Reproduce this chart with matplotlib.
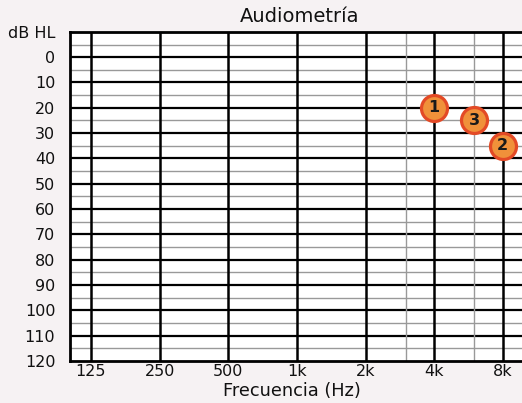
import numpy as np
import matplotlib
matplotlib.use("Agg")
import matplotlib.pyplot as plt

plt.rcParams['font.family'] = ['DejaVu Sans']

# audiogram axes
freq_ticks = [125, 250, 500, 1000, 2000, 4000, 8000]
freq_labels = ["125", "250", "500", "1k", "2k", "4k", "8k"]
half_octaves = [3000, 6000]
db_ticks = list(range(0, 130, 10))

# measured points
point_freq = [4000, 8000, 6000]
point_db = [20, 35, 25]
point_labels = ["1", "2", "3"]

BG = "#f6f2f3"


def octave(f):
    return np.log2(np.asarray(f, dtype=float) / 125.0)


fig = plt.figure(figsize=(5.22, 4.03), dpi=100, facecolor=BG)
ax = fig.add_axes([0.134, 0.104, 0.866, 0.817])
ax.set_facecolor("white")

ax.set_xlim(-0.306, 6.28)
ax.set_ylim(120, -10)

# horizontal grid: every 10 dB bold, every 5 dB thin grey
for d in range(-5, 120, 5):
    if d % 10 == 0:
        ax.axhline(d, color="black", lw=1.6, zorder=1)
    else:
        ax.axhline(d, color="#999999", lw=1.0, zorder=1)

# vertical grid
for f in freq_ticks:
    ax.axvline(octave(f), color="black", lw=1.8, zorder=1)
for f in half_octaves:
    ax.axvline(octave(f), color="#999999", lw=1.0, zorder=1)

ax.set_xticks(octave(freq_ticks))
ax.set_xticklabels(freq_labels)
ax.set_yticks([-10] + db_ticks)
ax.set_yticklabels(["dB HL"] + [str(d) for d in db_ticks])
ax.tick_params(length=0, labelsize=11.5, colors="#111111")
ax.tick_params(axis="y", pad=10.5)
ax.tick_params(axis="x", pad=2)

for side in ["left", "top", "bottom"]:
    ax.spines[side].set_linewidth(2.0)
    ax.spines[side].set_color("black")
ax.spines["right"].set_visible(False)

ax.scatter(octave(point_freq), point_db, s=350, c="#f0913a",
           edgecolors="#e34a26", linewidths=2.3, zorder=5, clip_on=False)
for x, y, lab in zip(octave(point_freq), point_db, point_labels):
    ax.text(x, y, lab, ha="center", va="center", fontsize=11.5,
            fontweight="bold", color="#1a1a1a", zorder=6)

fig.text(0.574, 0.958, "Audiometría", ha="center", va="center",
         fontsize=14, color="#111111")
fig.text(0.559, 0.030, "Frecuencia (Hz)", ha="center", va="center",
         fontsize=12.8, color="#111111")

fig.savefig("out.png", dpi=100, facecolor=BG)
